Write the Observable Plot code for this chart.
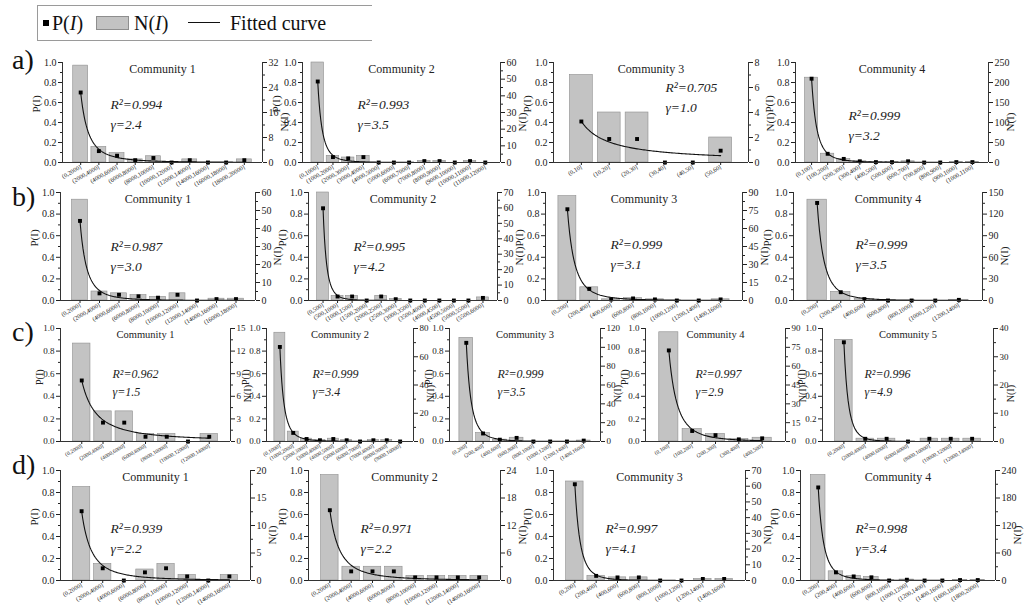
<!DOCTYPE html>
<html><head><meta charset="utf-8">
<script src="https://cdn.jsdelivr.net/npm/d3@7"></script>
<script src="https://cdn.jsdelivr.net/npm/@observablehq/plot@0.6"></script>
<style>
body{margin:0;background:#fff;}
#root{position:relative;width:1032px;height:607px;overflow:hidden;font-family:"Liberation Serif","DejaVu Serif","Noto Serif","Times New Roman",Times,serif;color:#111;}
.panel{position:absolute;}
.rowlab{position:absolute;font-size:28px;line-height:28px;}
#legend{position:absolute;left:37px;top:5px;width:334px;height:34px;border-top:1px solid #9a9a9a;border-bottom:1px solid #9a9a9a;border-left:1px solid #9a9a9a;font-size:20px;}
#legend span{position:absolute;top:6px;line-height:22px;white-space:nowrap;}
</style></head>
<body><div id="root"></div>
<script>
// ---------- data ----------
const titles = ["Community 1","Community 2","Community 3","Community 4","Community 5"];

const a1Cats = ["(0,2000]","(2000,4000]","(4000,6000]","(6000,8000]","(8000,10000]","(10000,12000]","(12000,14000]","(14000,16000]","(16000,18000]","(18000,20000]"];
const a1N = [31,5,3,1,2,0,1,0,0,1];
const a1P = [0.70,0.114,0.068,0.023,0.045,0,0.023,0,0,0.023];
const a1NTicks = [0,8,16,24,32];

const a2Cats = ["(0,1000]","(1000,2000]","(2000,3000]","(3000,4000]","(4000,5000]","(5000,6000]","(6000,7000]","(7000,8000]","(8000,9000]","(9000,10000]","(10000,11000]","(11000,12000]"];
const a2N = [60,4,3,4,0,0,0,1,1,0,1,0];
const a2P = [0.81,0.054,0.041,0.054,0,0,0,0.014,0.014,0,0.014,0];
const a2NTicks = [0,10,20,30,40,50,60];

const a3Cats = ["(0,10]","(10,20]","(20,30]","(30,40]","(40,50]","(50,60]"];
const a3N = [7,4,4,0,0,2];
const a3P = [0.41,0.235,0.235,0,0,0.118];
const a3NTicks = [0,2,4,6,8];

const a4Cats = ["(0,100]","(100,200]","(200,300]","(300,400]","(400,500]","(500,600]","(600,700]","(700,800]","(800,900]","(900,1000]","(1000,1100]"];
const a4N = [212,22,9,3,1,1,3,0,0,1,1];
const a4P = [0.838,0.087,0.036,0.012,0.004,0.004,0.012,0,0,0.004,0.004];
const a4NTicks = [0,50,100,150,200,250];

const b1Cats = ["(0,2000]","(2000,4000]","(4000,6000]","(6000,8000]","(8000,10000]","(10000,12000]","(12000,14000]","(14000,16000]","(16000,18000]"];
const b1N = [56,5,4,3,2,4,0,1,1];
const b1P = [0.737,0.066,0.053,0.039,0.026,0.053,0,0.013,0.013];
const b1NTicks = [0,10,20,30,40,50,60];

const b2Cats = ["(0,500]","(500,1000]","(1000,1500]","(1500,2000]","(2000,2500]","(2500,3000]","(3000,3500]","(3500,4000]","(4000,4500]","(4500,5000]","(5000,5500]","(5500,6000]"];
const b2N = [70,3,3,0,3,1,0,0,0,0,0,2];
const b2P = [0.854,0.037,0.037,0,0.037,0.012,0,0,0,0,0,0.024];
const b2NTicks = [0,10,20,30,40,50,60,70];

const b3Cats = ["(0,200]","(200,400]","(400,600]","(600,800]","(800,1000]","(1000,1200]","(1200,1400]","(1400,1600]"];
const b3N = [87,11,1,2,1,0,0,1];
const b3P = [0.845,0.107,0.01,0.019,0.01,0,0,0.01];
const b3NTicks = [0,15,30,45,60,75,90];

const b4Cats = ["(0,200]","(200,400]","(400,600]","(600,800]","(800,1000]","(1000,1200]","(1200,1400]"];
const b4N = [140,12,2,0,0,0,1];
const b4P = [0.903,0.077,0.013,0,0,0,0.006];
const b4NTicks = [0,30,60,90,120,150];

const c1Cats = ["(0,2000]","(2000,4000]","(4000,6000]","(6000,8000]","(8000,10000]","(10000,12000]","(12000,14000]"];
const c1N = [13,4,4,1,1,0,1];
const c1P = [0.54,0.167,0.167,0.042,0.042,0,0.042];
const c1NTicks = [0,3,6,9,12,15];

const c2Cats = ["(0,1000]","(1000,2000]","(2000,3000]","(3000,4000]","(4000,5000]","(5000,6000]","(6000,7000]","(7000,8000]","(8000,9000]","(9000,10000]"];
const c2N = [77,7,2,1,2,1,0,1,1,0];
const c2P = [0.837,0.076,0.022,0.011,0.022,0.011,0,0.011,0.011,0];
const c2NTicks = [0,20,40,60,80];

const c3Cats = ["(0,200]","(200,400]","(400,600]","(600,800]","(800,1000]","(1000,1200]","(1200,1400]","(1400,1600]"];
const c3N = [110,9,2,4,0,0,0,1];
const c3P = [0.873,0.071,0.016,0.032,0,0,0,0.008];
const c3NTicks = [0,20,40,60,80,100,120];

const c4Cats = ["(0,100]","(100,200]","(200,300]","(300,400]","(400,500]"];
const c4N = [87,10,6,2,3];
const c4P = [0.806,0.093,0.056,0.019,0.028];
const c4NTicks = [0,15,30,45,60,75,90];

const c5Cats = ["(0,2000]","(2000,4000]","(4000,6000]","(6000,8000]","(8000,10000]","(10000,12000]","(12000,14000]"];
const c5N = [36,1,1,0,1,1,1];
const c5P = [0.878,0.024,0.024,0,0.024,0.024,0.024];
const c5NTicks = [0,10,20,30,40];

const d1Cats = ["(0,2000]","(2000,4000]","(4000,6000]","(6000,8000]","(8000,10000]","(10000,12000]","(12000,14000]","(14000,16000]"];
const d1N = [17,3,0,2,3,1,0,1];
const d1P = [0.63,0.111,0,0.074,0.111,0.037,0,0.037];
const d1NTicks = [0,5,10,15,20];

const d2Cats = ["(0,2000]","(2000,4000]","(4000,6000]","(6000,8000]","(8000,10000]","(10000,12000]","(12000,14000]","(14000,16000]"];
const d2N = [23,3,3,3,1,1,1,1];
const d2P = [0.639,0.083,0.083,0.083,0.028,0.028,0.028,0.028];
const d2NTicks = [0,6,12,18,24];

const d3Cats = ["(0,200]","(200,400]","(400,600]","(600,800]","(800,1000]","(1000,1200]","(1200,1400]","(1400,1600]"];
const d3N = [63,3,2,2,0,0,1,1];
const d3P = [0.875,0.042,0.028,0.028,0,0,0.014,0.014];
const d3NTicks = [0,10,20,30,40,50,60,70];

const d4Cats = ["(0,200]","(200,400]","(400,600]","(600,800]","(800,1000]","(1000,1200]","(1200,1400]","(1400,1600]","(1600,1800]","(1800,2000]"];
const d4N = [230,20,10,8,0,2,0,0,1,1];
const d4P = [0.846,0.074,0.037,0.029,0,0.007,0,0,0.004,0.004];
const d4NTicks = [0,60,120,180,240];

// fitted power-law exponents and R² per panel (a1..a4, b1..b4, c1..c5, d1..d4)
const gammas = [2.4,3.5,1.0,3.2, 3.0,4.2,3.1,3.5, 1.5,3.4,3.5,2.9,4.9, 2.2,2.2,4.1,3.4];
const r2s = ["0.994","0.993","0.705","0.999", "0.987","0.995","0.999","0.999", "0.962","0.999","0.999","0.997","0.996", "0.939","0.971","0.997","0.998"];

// ---------- layout (pixel boxes of each plotting frame) ----------
const rowY = {a:[62,162], b:[192,300], c:[328,441], d:[470,580]};
const colX = {
  a:[[62,262],[302,500],[553,748],[795,988]],
  b:[[60,255],[308,497],[545,742],[793,982]],
  c:[[60,230],[266,413],[449,600],[645,785],[822,993]],
  d:[[60,250],[308,500],[553,745],[800,995]]
};
const textOff = {
  a:[[48,50],[55,50],[112,33],[53,61]],
  b:[[50,62],[45,62],[65,60],[62,60]],
  c:[[52,53],[46,53],[48,53],[50,53],[42,53]],
  d:[[50,66],[52,66],[52,66],[55,66]]
};

const panels = [
  ["a",0,a1Cats,a1N,a1P,a1NTicks],["a",1,a2Cats,a2N,a2P,a2NTicks],["a",2,a3Cats,a3N,a3P,a3NTicks],["a",3,a4Cats,a4N,a4P,a4NTicks],
  ["b",0,b1Cats,b1N,b1P,b1NTicks],["b",1,b2Cats,b2N,b2P,b2NTicks],["b",2,b3Cats,b3N,b3P,b3NTicks],["b",3,b4Cats,b4N,b4P,b4NTicks],
  ["c",0,c1Cats,c1N,c1P,c1NTicks],["c",1,c2Cats,c2N,c2P,c2NTicks],["c",2,c3Cats,c3N,c3P,c3NTicks],["c",3,c4Cats,c4N,c4P,c4NTicks],["c",4,c5Cats,c5N,c5P,c5NTicks],
  ["d",0,d1Cats,d1N,d1P,d1NTicks],["d",1,d2Cats,d2N,d2P,d2NTicks],["d",2,d3Cats,d3N,d3P,d3NTicks],["d",3,d4Cats,d4N,d4P,d4NTicks]
];

const root = document.getElementById("root");
const serif = '"Liberation Serif","DejaVu Serif","Noto Serif","Times New Roman",Times,serif';

function makePanel(row, col, cats, N, P, nTicks, gamma, r2) {
  const [x0, x1] = colX[row][col];
  const [y0, y1] = rowY[row];
  const small = row === "c";
  const mL = 42, mR = 38, mT = 14, mB = 42;
  const W = x1 - x0, H = y1 - y0;
  const n = cats.length;
  const nMax = nTicks[nTicks.length - 1];
  const rows = cats.map((c, i) => ({i: i + 1, cat: c, h: N[i] / nMax, p: P[i]}));
  const curve = d3.range(1, n + 0.0001, 0.05).map(k => ({k, p: P[0] * Math.pow(k, -gamma)}));
  const bw = 0.41;
  const step = nTicks[1] - nTicks[0];
  const minorR = nTicks.slice(0, -1).map(v => (v + step / 2) / nMax);
  const [tdx, tdy] = textOff[row][col];
  const fs = small ? 9 : 10;
  const plot = Plot.plot({
    width: W + mL + mR, height: H + mT + mB,
    marginLeft: mL, marginRight: mR, marginTop: mT, marginBottom: mB,
    x: {domain: [0, n + 1]},
    y: {domain: [0, 1]},
    style: {background: "none", fontFamily: serif, fontSize: fs + "px", color: "#222", overflow: "visible"},
    marks: [
      Plot.rectY(rows, {x1: d => d.i - bw, x2: d => d.i + bw, y1: 0, y2: "h", fill: "#c3c3c3", stroke: "#8e8e8e", strokeWidth: 0.6}),
      Plot.line(curve, {x: "k", y: "p", stroke: "#111", strokeWidth: 1.1}),
      Plot.dot(rows, {x: "i", y: "p", symbol: "square", r: 2.2, fill: "#000", stroke: "none"}),
      Plot.ruleX([0], {stroke: "#333"}),
      Plot.ruleX([n + 1], {stroke: "#333"}),
      Plot.ruleY([0], {stroke: "#333"}),
      Plot.axisY({anchor: "left", ticks: [0, 0.2, 0.4, 0.6, 0.8, 1], tickFormat: d3.format(".1f"), tickSize: 4, tickPadding: 2, label: null}),
      Plot.axisY({anchor: "left", ticks: [0.1, 0.3, 0.5, 0.7, 0.9], tickFormat: () => "", tickSize: 2, label: null}),
      Plot.axisY({anchor: "right", ticks: nTicks.map(v => v / nMax), tickFormat: d => String(Math.round(d * nMax)), tickSize: 4, tickPadding: 2, label: null}),
      Plot.axisY({anchor: "right", ticks: minorR, tickFormat: () => "", tickSize: 2, label: null}),
      Plot.axisX({ticks: d3.range(1, n + 1), tickFormat: i => cats[i - 1], tickRotate: -30, tickSize: 3, tickPadding: 1, fontSize: small ? 5.5 : 6.2, label: null}),
      Plot.text([titles[col]], {text: d => d, frameAnchor: "top", dy: 2, fontSize: small ? 10.5 : 12}),
      Plot.text(["P(I)"], {text: d => d, frameAnchor: "left", dx: small ? -21 : -26, rotate: -90, fontSize: small ? 10 : 11}),
      Plot.text(["N(I)"], {text: d => d, frameAnchor: "right", dx: small ? 17 : 22, rotate: -90, fontSize: small ? 10 : 11}),
      Plot.text([`R²=${r2}\nγ=${gamma.toFixed(1)}`], {text: d => d, frameAnchor: "top-left", dx: tdx, dy: tdy, textAnchor: "start", lineAnchor: "middle", lineHeight: 1.5, fontStyle: "italic", fontSize: small ? 12 : 13.5})
    ]
  });
  plot.classList.add("panel");
  plot.style.left = (x0 - mL) + "px";
  plot.style.top = (y0 - mT) + "px";
  root.appendChild(plot);
}

panels.forEach((p, k) => makePanel(p[0], p[1], p[2], p[3], p[4], p[5], gammas[k], r2s[k]));

// row labels
const rowLabels = [["a)", 12, 46], ["b)", 12, 183], ["c)", 12, 318], ["d)", 12, 451]];
rowLabels.forEach(([t, x, y]) => {
  const d = document.createElement("div");
  d.className = "rowlab"; d.textContent = t;
  d.style.left = x + "px"; d.style.top = y + "px";
  root.appendChild(d);
});

// legend
const lg = document.createElement("div");
lg.id = "legend";
lg.innerHTML =
  '<span style="left:5px;top:14px;width:6px;height:6px;background:#000;"></span>' +
  '<span style="left:14px;">P(<i>I</i>)</span>' +
  '<span style="left:58px;top:10px;width:31px;height:12px;background:#c3c3c3;border:1px solid #8e8e8e;"></span>' +
  '<span style="left:96px;">N(<i>I</i>)</span>' +
  '<span style="left:150px;top:16px;width:32px;height:0;border-top:1.5px solid #111;"></span>' +
  '<span style="left:192px;">Fitted curve</span>';
root.appendChild(lg);
</script>
</body></html>
